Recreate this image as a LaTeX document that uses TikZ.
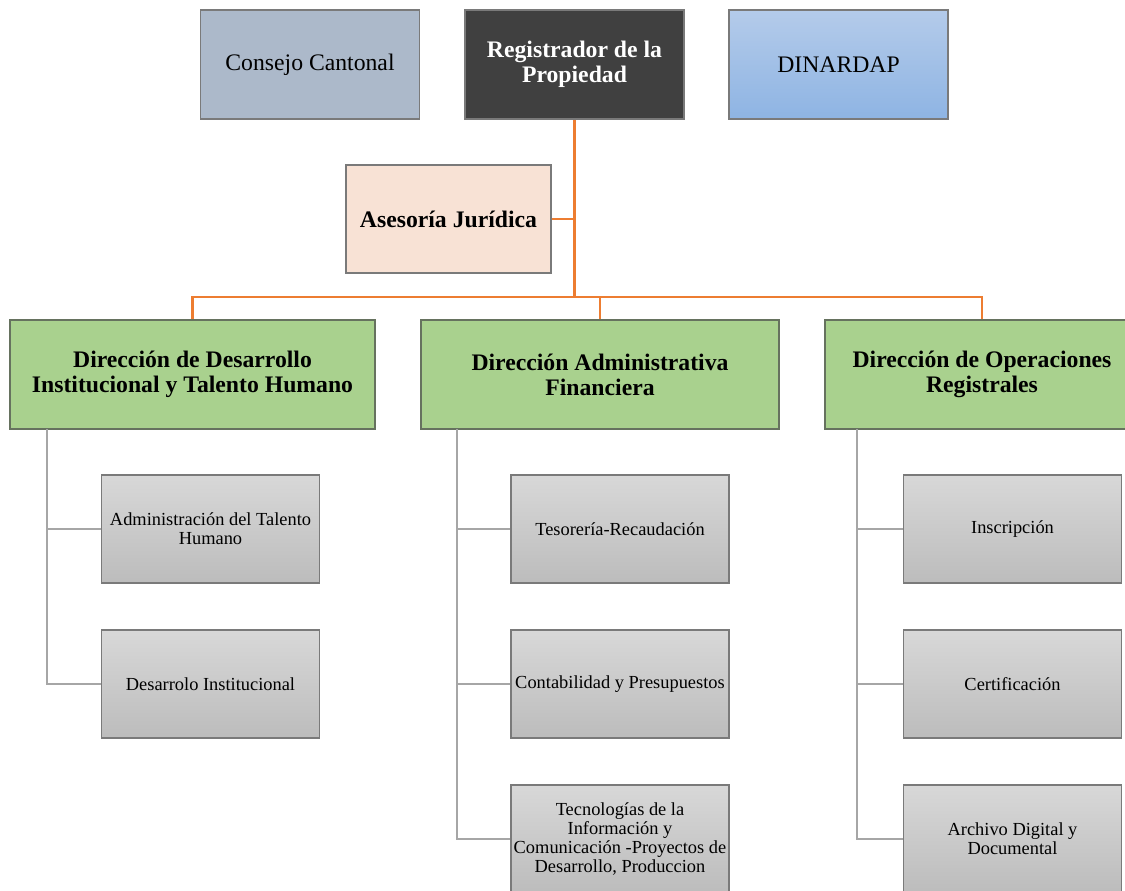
\documentclass[tikz,border=0pt]{standalone}
\usepackage{fontspec}
\setmainfont{Liberation Serif}
\definecolor{edge}{HTML}{7A7A7A}
\definecolor{greenedge}{HTML}{66725F}
\definecolor{consejofill}{HTML}{ACB9CA}
\definecolor{regfill}{HTML}{404040}
\definecolor{bluetop}{HTML}{B4CBEA}
\definecolor{bluebot}{HTML}{8EB4E3}
\definecolor{asefill}{HTML}{F8E2D5}
\definecolor{dirgreen}{HTML}{A9D18E}
\definecolor{greytop}{HTML}{D8D8D8}
\definecolor{greybot}{HTML}{BCBCBC}
\definecolor{linkorange}{HTML}{ED7D31}
\definecolor{linkgrey}{HTML}{A6A6A6}
\tikzset{
  unit/.style={rectangle, draw=edge, line width=1.3pt, inner sep=2pt, align=center},
  topbox/.style={unit, minimum width=219pt, minimum height=109pt,
    font=\fontsize{23.7}{25}\selectfont},
  headbox/.style={unit, fill=dirgreen, draw=greenedge, minimum height=109pt,
    font=\fontsize{23.7}{25}\selectfont\bfseries},
  unitbox/.style={unit, top color=greytop, bottom color=greybot,
    minimum width=218pt, minimum height=108pt,
    font=\fontsize{18.4}{19.3}\selectfont},
  orgline/.style={draw=linkorange, line width=2.8pt},
  subline/.style={draw=linkgrey, line width=2.8pt},
}
\begin{document}
\begin{tikzpicture}[x=1pt, y=-1pt]
\useasboundingbox (0,0) rectangle (1125,891);
\clip (0,0) rectangle (1125,891);

% top row
\node[topbox, fill=consejofill] (consejo) at (310,64.5) {Consejo Cantonal};
\node[topbox, fill=regfill, text=white, font=\fontsize{23.7}{25}\selectfont\bfseries]
  (reg) at (574.5,64.5) {Registrador de la\\Propiedad};
\node[topbox, top color=bluetop, bottom color=bluebot] (dinardap) at (838.5,64.5) {DINARDAP};

% advisory unit
\node[unit, fill=asefill, minimum width=205pt, minimum height=108pt,
  font=\fontsize{23.7}{25}\selectfont\bfseries] (ase) at (448.5,219) {Asesoría Jurídica};

% directorates
\node[headbox, minimum width=365pt] (dir1) at (192.5,374.5)
  {Dirección de Desarrollo\\Institucional y Talento Humano};
\node[headbox, minimum width=358pt] (dir2) at (600,374.5)
  {Dirección Administrativa\\Financiera};
\node[headbox, minimum width=314pt] (dir3) at (982,374.5)
  {Dirección de Operaciones\\Registrales};

% units under each directorate
\node[unitbox] (u11) at (210.5,529) {Administración del Talento\\Humano};
\node[unitbox] (u12) at (210.5,684) {Desarrolo Institucional};

\node[unitbox] (u21) at (620,529) {Tesorería-Recaudación};
\node[unitbox] (u22) at (620,684) {Contabilidad y Presupuestos};
\node[unitbox] (u23) at (620,839) {Tecnologías de la\\Información y\\Comunicación -Proyectos de\\Desarrollo, Produccion};

\node[unitbox] (u31) at (1012.5,529) {Inscripción};
\node[unitbox] (u32) at (1012.5,684) {Certificación};
\node[unitbox] (u33) at (1012.5,839) {Archivo Digital y\\Documental};

% orange hierarchy lines
\coordinate (bus) at (574.5,297);
\draw[orgline] (reg.south) -- (bus);
\draw[orgline] (ase.east) -- (ase.east -| bus);
\draw[orgline] (dir1.north) |- (bus) -| (dir3.north);
\draw[orgline] (dir2.north) -- (dir2.north |- bus);

% grey spines
\coordinate (s1) at (47,429);
\coordinate (s2) at (457,429);
\coordinate (s3) at (857,429);
\draw[subline] (s1) |- (u12.west);
\draw[subline] (s1 |- u11.west) -- (u11.west);
\draw[subline] (s2) |- (u23.west);
\draw[subline] (s2 |- u21.west) -- (u21.west);
\draw[subline] (s2 |- u22.west) -- (u22.west);
\draw[subline] (s3) |- (u33.west);
\draw[subline] (s3 |- u31.west) -- (u31.west);
\draw[subline] (s3 |- u32.west) -- (u32.west);
\end{tikzpicture}
\end{document}
